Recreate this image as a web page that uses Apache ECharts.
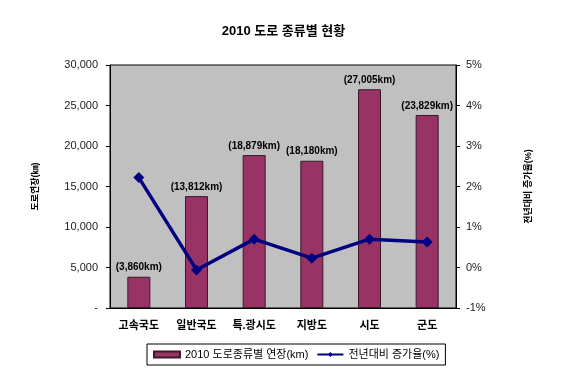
<!DOCTYPE html>
<html><head><meta charset="utf-8">
<script src="https://cdn.jsdelivr.net/npm/echarts@6/dist/echarts.min.js"></script>
<style>html,body{margin:0;padding:0;background:#fff}#c{width:567px;height:378px}</style>
</head><body><div id="c"></div>
<script>
const categories = ['고속국도','일반국도','특.광시도','지방도','시도','군도'];
const lengthKm = [3860, 13812, 18879, 18180, 27005, 23829];
const growthPct = [2.22, -0.06, 0.70, 0.23, 0.70, 0.63];
const leftTicks = [0, 5000, 10000, 15000, 20000, 25000, 30000];
const rightTicks = [-1, 0, 1, 2, 3, 4, 5];
const FF = "'Liberation Sans', 'Noto Sans CJK KR', sans-serif";
const chart = echarts.init(document.getElementById('c'));
chart.setOption({
  animation: false,
  textStyle: {fontFamily: FF},
  title: {text: '2010 도로 종류별 현황', left: 'center', top: 20,
    textStyle: {fontSize: 13, fontWeight: 'bold', color: '#000', fontFamily: FF}},
  grid: {left: 110, right: 111, top: 65, bottom: 70, show: true, backgroundColor: '#c0c0c0', borderColor: '#000', borderWidth: 1},
  legend: {bottom: 13, left: 147, borderColor: '#000', borderWidth: 1, borderRadius: 0, padding: [5, 6], itemGap: 8,
    itemWidth: 26, itemHeight: 6,
    textStyle: {fontSize: 11, color: '#000', fontFamily: FF},
    data: [{name: '2010 도로종류별 연장(km)', icon: 'rect'}, {name: '전년대비 증가율(%)'}]},
  xAxis: {type: 'category', data: categories,
    axisLine: {lineStyle: {color: '#000'}}, axisTick: {inside: true, length: 4, lineStyle: {color: '#000'}},
    axisLabel: {fontSize: 11, fontWeight: 'bold', color: '#000', margin: 12}},
  yAxis: [
    {type: 'value', min: 0, max: 30000, interval: 5000, name: '도로연장(㎞)', nameLocation: 'middle', nameRotate: 90, nameGap: 70,
      nameTextStyle: {fontSize: 9, fontWeight: 'bold', color: '#000'},
      axisLine: {show: true, lineStyle: {color: '#000'}}, axisTick: {show: true, length: 4, lineStyle: {color: '#000'}},
      splitLine: {show: false},
      axisLabel: {fontSize: 11, color: '#222', margin: 12, formatter: v => v === 0 ? '-' : v.toLocaleString('en-US')}},
    {type: 'value', min: -1, max: 5, interval: 1, name: '전년대비 증가율(%)', nameLocation: 'middle', nameRotate: 90, nameGap: 68,
      nameTextStyle: {fontSize: 9, fontWeight: 'bold', color: '#000'},
      axisLine: {show: true, lineStyle: {color: '#000'}}, axisTick: {show: true, length: 4, lineStyle: {color: '#000'}},
      splitLine: {show: false},
      axisLabel: {fontSize: 11, color: '#222', margin: 10, formatter: v => v + '%'}}
  ],
  series: [
    {name: '2010 도로종류별 연장(km)', type: 'bar', data: lengthKm, barWidth: 23,
      itemStyle: {color: '#993366', borderColor: '#3a1a28', borderWidth: 1},
      label: {show: true, position: 'top', distance: 4, fontSize: 10, fontWeight: 'bold', color: '#000',
        formatter: p => '(' + p.value.toLocaleString('en-US') + 'km)'}},
    {name: '전년대비 증가율(%)', type: 'line', yAxisIndex: 1, data: growthPct,
      symbol: 'diamond', symbolSize: 11,
      lineStyle: {color: '#000080', width: 3.5}, itemStyle: {color: '#000080'}}
  ]
});
</script></body></html>
